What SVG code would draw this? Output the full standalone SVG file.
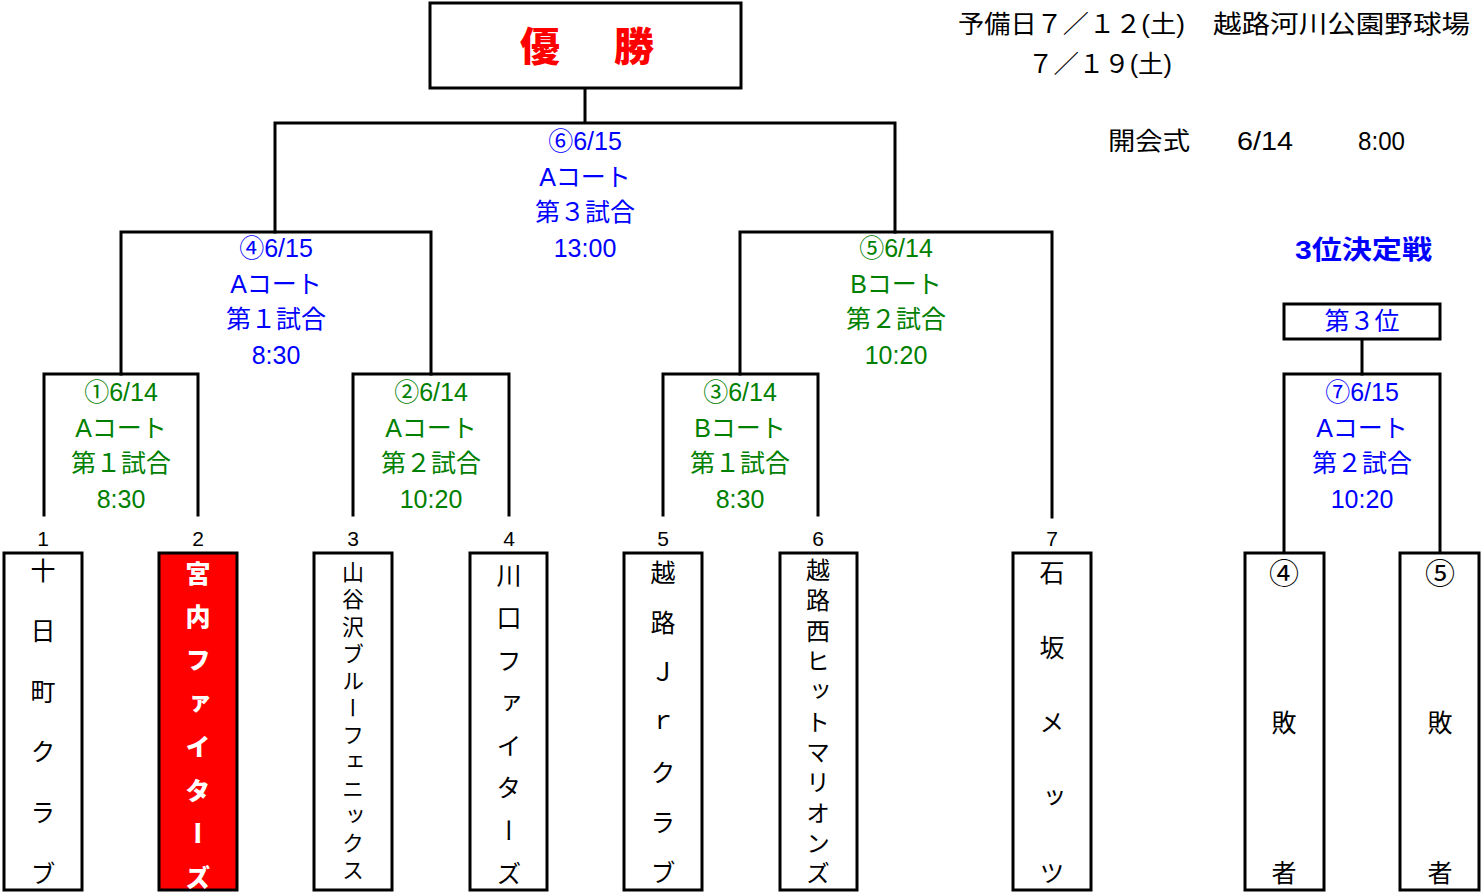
<svg xmlns="http://www.w3.org/2000/svg" width="1481" height="896" viewBox="0 0 1481 896">
<style>
.ln{stroke:#000;stroke-width:3;fill:none;stroke-linecap:square}
.box{fill:#fff;stroke:#000;stroke-width:3}
.red{fill:#ff0000;stroke:#000;stroke-width:3}
text{font-family:"Liberation Sans","Noto Sans CJK JP",sans-serif}
.lb{font-size:25px;text-anchor:middle}
.g{fill:#008000}
.b{fill:#0000ff}
.num{font-size:21px;text-anchor:middle;fill:#000}
.v{font-family:"Noto Sans CJK JP",sans-serif;writing-mode:vertical-rl;font-size:25px;fill:#000;text-anchor:middle}
.title{font-family:"Noto Sans CJK JP",sans-serif;font-size:40px;font-weight:900;fill:#ff0000;text-anchor:middle}
.info{font-size:25px;fill:#000}
</style>
<rect width="1481" height="896" fill="#fff"/>
<g id="connectors">
<path class="ln" d="M585,88V123M275,232V123H895V232"/>
<path class="ln" d="M121,374V232H431V374"/>
<path class="ln" d="M740,374V232H1052V517"/>
<path class="ln" d="M44,515V374H198V515"/>
<path class="ln" d="M353,515V374H509V515"/>
<path class="ln" d="M663,515V374H818V515"/>
<path class="ln" d="M1362,339V374"/>
<path class="ln" d="M1284,553V374H1440V553"/>
</g>
<g id="champion">
<rect class="box" x="430" y="3" width="311" height="85"/>
<text class="title" x="540" y="61">優</text>
<text class="title" x="634" y="61">勝</text>
</g>
<g id="info">
<text class="info" x="958" y="33" textLength="227" lengthAdjust="spacingAndGlyphs">予備日７／１２(土)</text>
<text class="info" x="1213" y="33" textLength="257" lengthAdjust="spacingAndGlyphs">越路河川公園野球場</text>
<text class="info" x="1028" y="73" textLength="144" lengthAdjust="spacingAndGlyphs">７／１９(土)</text>
<text class="info" x="1108" y="150" textLength="82" lengthAdjust="spacingAndGlyphs">開会式</text>
<text class="info" x="1237" y="150" textLength="56" lengthAdjust="spacingAndGlyphs">6/14</text>
<text class="info" x="1358" y="150" textLength="47" lengthAdjust="spacingAndGlyphs">8:00</text>
</g>
<g id="match6">
<text class="lb b" x="585" y="150">⑥6/15</text>
<text class="lb b" x="585" y="186">Aコート</text>
<text class="lb b" x="585" y="221">第３試合</text>
<text class="lb b" x="585" y="257">13:00</text>
</g>
<g id="match4">
<text class="lb b" x="276" y="257">④6/15</text>
<text class="lb b" x="276" y="293">Aコート</text>
<text class="lb b" x="276" y="328">第１試合</text>
<text class="lb b" x="276" y="364">8:30</text>
</g>
<g id="match5">
<text class="lb g" x="896" y="257">⑤6/14</text>
<text class="lb g" x="896" y="293">Bコート</text>
<text class="lb g" x="896" y="328">第２試合</text>
<text class="lb g" x="896" y="364">10:20</text>
</g>
<g id="match1">
<text class="lb g" x="121" y="401">①6/14</text>
<text class="lb g" x="121" y="437">Aコート</text>
<text class="lb g" x="121" y="472">第１試合</text>
<text class="lb g" x="121" y="508">8:30</text>
</g>
<g id="match2">
<text class="lb g" x="431" y="401">②6/14</text>
<text class="lb g" x="431" y="437">Aコート</text>
<text class="lb g" x="431" y="472">第２試合</text>
<text class="lb g" x="431" y="508">10:20</text>
</g>
<g id="match3">
<text class="lb g" x="740" y="401">③6/14</text>
<text class="lb g" x="740" y="437">Bコート</text>
<text class="lb g" x="740" y="472">第１試合</text>
<text class="lb g" x="740" y="508">8:30</text>
</g>
<g id="third-title">
<text x="1295" y="259" font-size="26" font-weight="bold" fill="#0000ff" textLength="137" lengthAdjust="spacingAndGlyphs">3位決定戦</text>
</g>
<g id="third-place">
<rect class="box" x="1284" y="304" width="156" height="35"/>
<text class="lb b" x="1362" y="330">第３位</text>
</g>
<g id="match7">
<text class="lb b" x="1362" y="401">⑦6/15</text>
<text class="lb b" x="1362" y="437">Aコート</text>
<text class="lb b" x="1362" y="472">第２試合</text>
<text class="lb b" x="1362" y="508">10:20</text>
</g>
<g id="team1">
<text class="num" x="43" y="546">1</text>
<rect class="box" x="4" y="553" width="78" height="337"/>
<text class="v" x="43"><tspan y="570">十</tspan><tspan y="630.6">日</tspan><tspan y="691.2">町</tspan><tspan y="751.8">ク</tspan><tspan y="812.4">ラ</tspan><tspan y="873">ブ</tspan></text>
</g>
<g id="team2">
<text class="num" x="198" y="546">2</text>
<rect class="red" x="159" y="553" width="78" height="337"/>
<text class="v" x="198" style="fill:#fff;font-weight:900"><tspan y="573">宮</tspan><tspan y="616.4">内</tspan><tspan y="659.9">フ</tspan><tspan y="703.3">ァ</tspan><tspan y="746.7">イ</tspan><tspan y="790.1">タ</tspan><tspan y="833.6">ー</tspan><tspan y="877">ズ</tspan></text>
</g>
<g id="team3">
<text class="num" x="353" y="546">3</text>
<rect class="box" x="314" y="553" width="78" height="337"/>
<text class="v" x="353" style="font-size:22px"><tspan y="572">山</tspan><tspan y="599.1">谷</tspan><tspan y="626.2">沢</tspan><tspan y="653.3">ブ</tspan><tspan y="680.4">ル</tspan><tspan y="707.5">ー</tspan><tspan y="734.5">フ</tspan><tspan y="761.6">ェ</tspan><tspan y="788.7">ニ</tspan><tspan y="815.8">ッ</tspan><tspan y="842.9">ク</tspan><tspan y="870">ス</tspan></text>
</g>
<g id="team4">
<text class="num" x="509" y="546">4</text>
<rect class="box" x="470" y="553" width="77" height="337"/>
<text class="v" x="509"><tspan y="575">川</tspan><tspan y="617.6">口</tspan><tspan y="660.1">フ</tspan><tspan y="702.7">ァ</tspan><tspan y="745.3">イ</tspan><tspan y="787.9">タ</tspan><tspan y="830.4">ー</tspan><tspan y="873">ズ</tspan></text>
</g>
<g id="team5">
<text class="num" x="663" y="546">5</text>
<rect class="box" x="624" y="553" width="78" height="337"/>
<text class="v" x="663"><tspan y="572">越</tspan><tspan y="622">路</tspan><tspan y="672">Ｊ</tspan><tspan y="722">ｒ</tspan><tspan y="772">ク</tspan><tspan y="822">ラ</tspan><tspan y="872">ブ</tspan></text>
</g>
<g id="team6">
<text class="num" x="818" y="546">6</text>
<rect class="box" x="780" y="553" width="77" height="337"/>
<text class="v" x="818" style="font-size:24px"><tspan y="570">越</tspan><tspan y="600.3">路</tspan><tspan y="630.6">西</tspan><tspan y="660.9">ヒ</tspan><tspan y="691.2">ッ</tspan><tspan y="721.5">ト</tspan><tspan y="751.8">マ</tspan><tspan y="782.1">リ</tspan><tspan y="812.4">オ</tspan><tspan y="842.7">ン</tspan><tspan y="873">ズ</tspan></text>
</g>
<g id="team7">
<text class="num" x="1052" y="546">7</text>
<rect class="box" x="1013" y="553" width="78" height="337"/>
<text class="v" x="1052"><tspan y="572">石</tspan><tspan y="647">坂</tspan><tspan y="722">メ</tspan><tspan y="797">ッ</tspan><tspan y="872">ツ</tspan></text>
</g>
<g id="loser4">
<rect class="box" x="1245" y="553" width="79" height="337"/>
<text class="v" x="1284"><tspan y="573" style="font-size:30px">④</tspan><tspan y="722">敗</tspan><tspan y="872">者</tspan></text>
</g>
<g id="loser5">
<rect class="box" x="1400" y="553" width="79" height="337"/>
<text class="v" x="1440"><tspan y="573" style="font-size:30px">⑤</tspan><tspan y="722">敗</tspan><tspan y="872">者</tspan></text>
</g>
</svg>
